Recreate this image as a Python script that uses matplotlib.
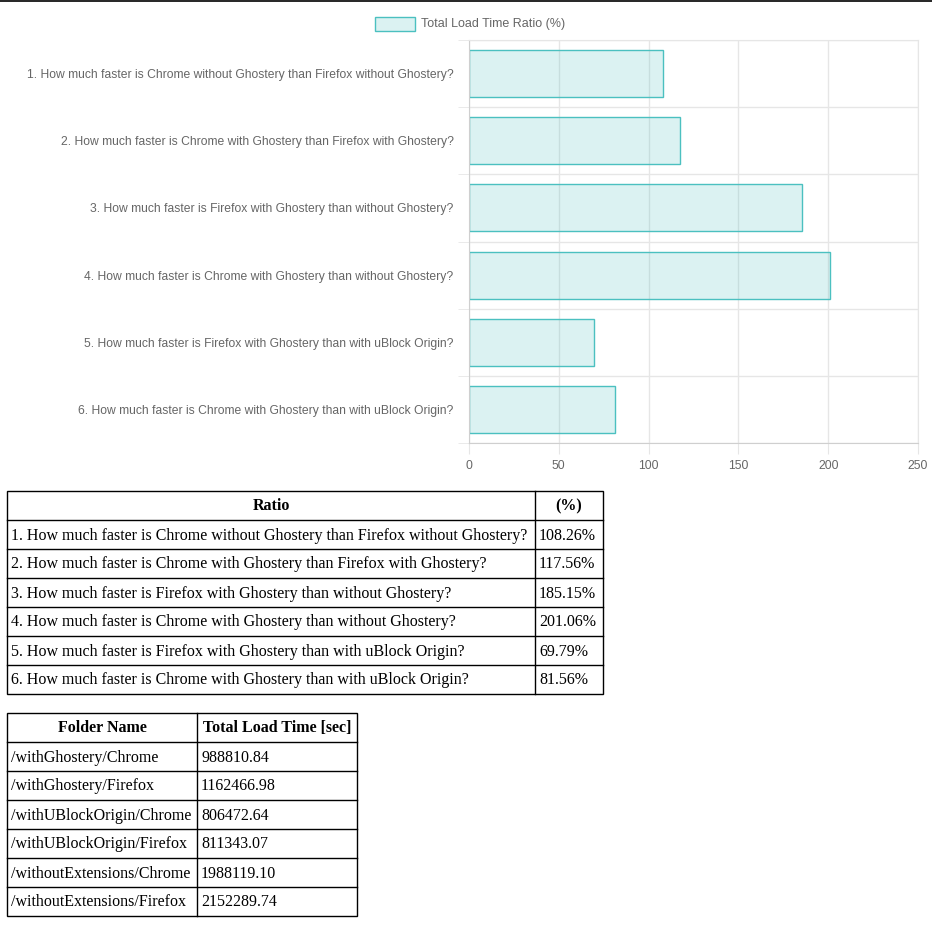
import numpy as np
import matplotlib.pyplot as plt
from matplotlib.patches import Rectangle

questions = [
    "1. How much faster is Chrome without Ghostery than Firefox without Ghostery?",
    "2. How much faster is Chrome with Ghostery than Firefox with Ghostery?",
    "3. How much faster is Firefox with Ghostery than without Ghostery?",
    "4. How much faster is Chrome with Ghostery than without Ghostery?",
    "5. How much faster is Firefox with Ghostery than with uBlock Origin?",
    "6. How much faster is Chrome with Ghostery than with uBlock Origin?",
]
ratios = [108.26, 117.56, 185.15, 201.06, 69.79, 81.56]
folders = ["/withGhostery/Chrome", "/withGhostery/Firefox", "/withUBlockOrigin/Chrome",
           "/withUBlockOrigin/Firefox", "/withoutExtensions/Chrome", "/withoutExtensions/Firefox"]
load_times = [988810.84, 1162466.98, 806472.64, 811343.07, 1988119.10, 2152289.74]

W = 932
fig = plt.figure(figsize=(9.32, 9.32), dpi=100)
fill = (75/255, 192/255, 192/255, 0.2)
edge = (75/255, 192/255, 192/255, 1)
grey = "#666666"

# chart
ax = fig.add_axes([469/W, 1-443/W, 449/W, 403/W])
y = np.arange(len(ratios))
ax.barh(y, ratios, height=0.7, color=fill, edgecolor=edge, linewidth=1)
ax.set_ylim(len(ratios)-0.5, -0.5)
ax.set_xlim(0, 250)
ax.set_xticks(np.arange(0, 251, 50))
ax.set_yticks(y)
ax.set_yticklabels(questions, fontsize=8.7, color=grey, family="Liberation Sans")
ax.set_yticks(np.arange(-0.5, len(ratios)), minor=True)
for t in ax.get_xticklabels():
    t.set_fontsize(8.7); t.set_color(grey); t.set_family("Liberation Sans")
ax.tick_params(axis="y", which="major", length=0, pad=11)
ax.tick_params(axis="y", which="minor", length=8, color="#e6e6e6")
ax.tick_params(axis="x", length=8, color="#e6e6e6", pad=4)
ax.grid(False)
ax.xaxis.grid(True, color="#e6e6e6", linewidth=1)
ax.yaxis.grid(True, which="minor", color="#e6e6e6", linewidth=1)
ax.set_axisbelow(True)
for s in ax.spines.values():
    s.set_color("#e6e6e6")
ax.spines["left"].set_color("#cfcfcf")
ax.spines["bottom"].set_color("#cfcfcf")

# overlay for legend and tables, pixel coordinates
ov = fig.add_axes([0, 0, 1, 1])
ov.set_xlim(0, W); ov.set_ylim(W, 0); ov.axis("off")
ov.plot([0, W], [1, 1], color="black", lw=1.2)
ov.add_patch(Rectangle((375, 17), 40, 14, facecolor=fill, edgecolor=edge, lw=1))
ov.text(421, 24, "Total Load Time Ratio (%)", fontsize=9, color=grey,
        va="center", family="Liberation Sans")

def table(x0, xs, y0, rowh, header, rows):
    n = len(rows) + 1
    y1 = y0 + rowh * n
    ov.add_patch(Rectangle((x0, y0), xs[-1]-x0, y1-y0, fill=False, ec="black", lw=1))
    for xv in xs[:-1]:
        ov.plot([xv, xv], [y0, y1], color="black", lw=1)
    for i in range(1, n):
        ov.plot([x0, xs[-1]], [y0+rowh*i, y0+rowh*i], color="black", lw=1)
    lefts = [x0] + xs[:-1]
    for j, h in enumerate(header):
        ov.text((lefts[j]+xs[j])/2, y0+rowh/2+1, h, ha="center", va="center",
                fontsize=11.5, weight="bold", family="Liberation Serif")
    for i, r in enumerate(rows):
        for j, c in enumerate(r):
            ov.text(lefts[j]+4, y0+rowh*(i+1.5)+1, c, ha="left", va="center",
                    fontsize=11.5, family="Liberation Serif")

table(7, [535, 603], 491, 29, ["Ratio", "(%)"],
      [[q, "%.2f%%" % r] for q, r in zip(questions, ratios)])
table(7, [197, 357], 713, 29, ["Folder Name", "Total Load Time [sec]"],
      [[f, "%.2f" % t] for f, t in zip(folders, load_times)])

fig.savefig("out.png", dpi=100)
